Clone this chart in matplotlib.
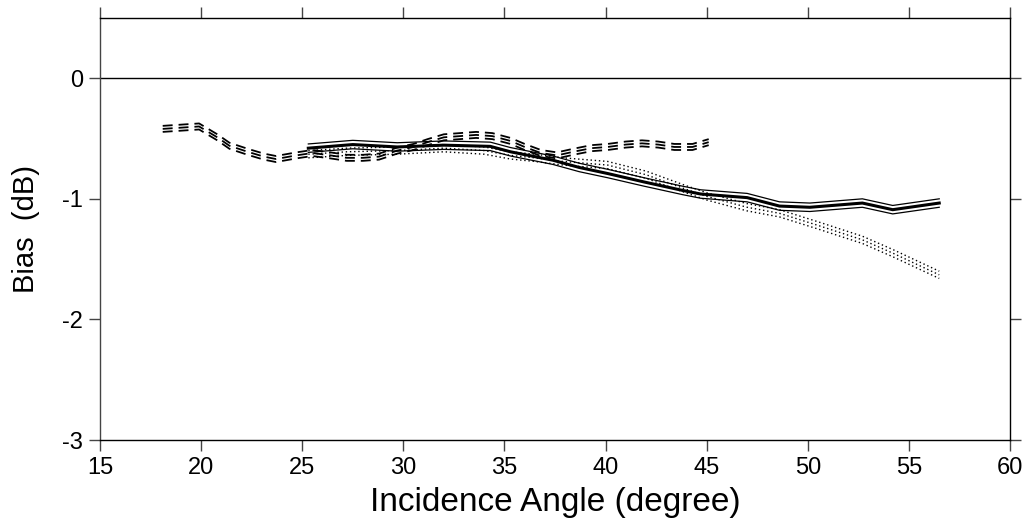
import matplotlib
matplotlib.use("Agg")
import matplotlib.pyplot as plt

plt.rcParams["font.family"] = ["Liberation Sans", "DejaVu Sans"]

# dashed series (center of a narrow band)
dash_x = [18.1, 19.9, 20.8, 21.4, 22.3, 23.1, 23.7, 24.7, 25.5, 26.4, 27.2, 28.0, 28.8,
          29.7, 30.5, 31.2, 32.0, 32.8, 33.6, 34.4, 35.3, 36.0, 36.8, 37.6, 38.4, 39.3,
          40.1, 41.0, 41.8, 42.6, 43.4, 44.3, 45.1]
dash_y = [-0.42, -0.40, -0.49, -0.56, -0.61, -0.65, -0.67, -0.64, -0.62, -0.64, -0.66, -0.66, -0.65,
          -0.60, -0.57, -0.53, -0.49, -0.48, -0.47, -0.48, -0.52, -0.57, -0.62, -0.64, -0.61, -0.58,
          -0.57, -0.55, -0.54, -0.55, -0.57, -0.57, -0.53]

# solid series
solid_x = [25.3, 27.5, 29.7, 32.0, 34.3, 35.3, 37.4, 38.7, 40.1, 41.9, 43.8, 44.7,
           47.0, 48.6, 50.1, 52.7, 54.2, 56.5]
solid_y = [-0.58, -0.55, -0.57, -0.555, -0.565, -0.61, -0.68, -0.74, -0.79, -0.86, -0.93, -0.96,
           -0.99, -1.06, -1.07, -1.035, -1.09, -1.035]

# dotted series
dot_x = [25.3, 27.2, 29.7, 32.0, 34.0, 35.3, 36.5, 37.9, 40.1, 42.0, 43.8, 45.0,
         47.0, 48.6, 50.5, 52.7, 54.2, 56.5]
dot_y = [-0.63, -0.61, -0.60, -0.58, -0.60, -0.64, -0.66, -0.69, -0.72, -0.80, -0.91, -0.98,
         -1.07, -1.12, -1.22, -1.34, -1.45, -1.63]

fig = plt.figure(figsize=(10.28, 5.27), dpi=100)
ax = fig.add_axes([0.0973, 0.165, 0.8852, 0.801])

ax.axhline(0, color="black", linewidth=1.0)

# dashed: three parallel dashed lines
for off in (-0.025, 0.0, 0.025):
    ax.plot(dash_x, [v + off for v in dash_y], color="black", linewidth=1.3,
            linestyle=(0, (5.5, 3.3)))

# solid: thick center with thin bounds
ax.plot(solid_x, solid_y, color="black", linewidth=2.2)
for off in (-0.035, 0.035):
    ax.plot(solid_x, [v + off for v in solid_y], color="black", linewidth=0.9)

# dotted: three parallel dotted lines
for off in (-0.03, 0.0, 0.03):
    ax.plot(dot_x, [v + off for v in dot_y], color="black", linewidth=1.0,
            linestyle=(0, (1, 2)))

ax.set_xlim(15, 60)
ax.set_ylim(-3, 0.5)
ax.set_xticks(range(15, 61, 5))
ax.set_yticks([-3, -2, -1, 0])
ax.set_yticklabels(["-3", "-2", "-1", "0"])

ax.tick_params(axis="both", direction="out", length=8, width=1, labelsize=17,
               color="#444444", top=True, right=True, labeltop=False,
               labelright=False, pad=4)
for spine in ax.spines.values():
    spine.set_linewidth(1.0)
ax.spines["left"].set_color("#444444")

ax.set_xlabel("Incidence Angle (degree)", fontsize=24, labelpad=6)
ax.set_ylabel("Bias  (dB)", fontsize=21, labelpad=16)

fig.savefig("out.png", dpi=100, facecolor="white")
